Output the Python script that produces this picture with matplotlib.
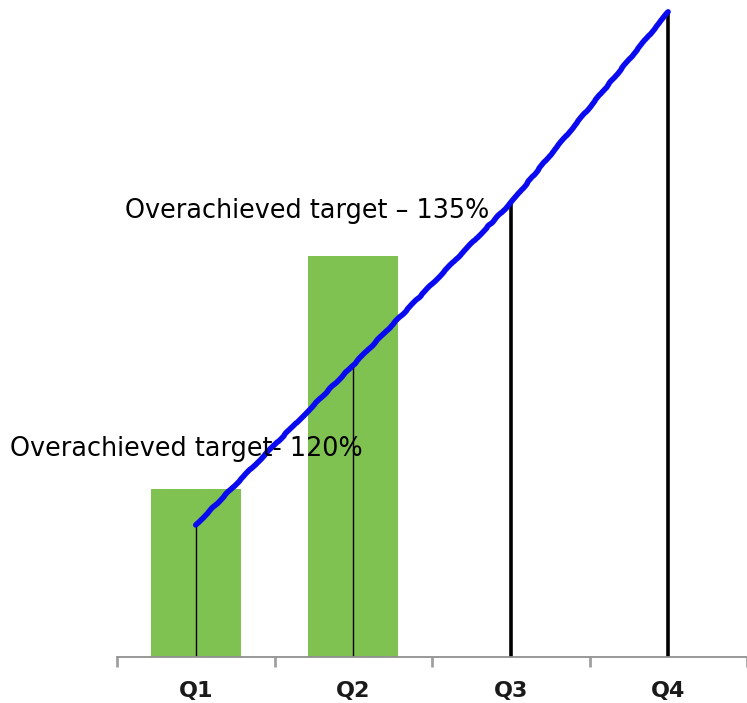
import numpy as np
import matplotlib as mpl
mpl.use('Agg')
import matplotlib.pyplot as plt

### data ###
quarters = ['Q1', 'Q2', 'Q3', 'Q4']
bar_vals = [168, 401]                      # actuals, only first two quarters in
trend_vals = [132, 292, 454, 645]          # target trend line
drop_widths = [1.0, 1.0, 2.6, 2.6]         # thin for done quarters, thick for forecast
note_120 = 'Overachieved target- 120%'
note_135 = 'Overachieved target \u2013 135%'

W, H = 747, 703
fig = plt.figure(figsize=(W/100, H/100), dpi=100)
ax = fig.add_axes([117/W, (H-657)/H, (747-117)/W, 657/H])

x = np.arange(len(quarters))
ax.bar(x[:len(bar_vals)], bar_vals, width=0.57, color='#80c252', zorder=1)

# drop lines from each trend point to the axis
for xi, yi, lw in zip(x, trend_vals, drop_widths):
	ax.plot([xi, xi], [0, yi], color='black', lw=lw, zorder=2, solid_capstyle='butt')

trend, = ax.plot(x, trend_vals, color='#0a0af0', lw=4.0, zorder=3, solid_capstyle='round')
trend.set_sketch_params(scale=0.4, length=60, randomness=10)

ax.set_xlim(-0.5, 3.49)
ax.set_ylim(0, 657)

for s in ['top', 'right', 'left']:
	ax.spines[s].set_visible(False)
ax.spines['bottom'].set_color('#909090')
ax.spines['bottom'].set_linewidth(1.3)
ax.set_yticks([])
ax.set_xticks(np.arange(-0.5, 3.6, 1.0), minor=False)
ax.set_xticklabels([])
ax.tick_params(axis='x', which='major', direction='out', length=7, width=2, color='#a0a0a0')
ax.set_xticks(x, minor=True)
ax.set_xticklabels(quarters, minor=True, fontsize=16, fontweight='bold', color='#1a1a1a')
ax.tick_params(axis='x', which='minor', length=0, pad=17)

fig.text(10/W, 1-456/H, note_120, fontsize=18.4, color='black', ha='left', va='baseline')
fig.text(125/W, 1-218/H, note_135, fontsize=18.4, color='black', ha='left', va='baseline')

plt.savefig('out.png', dpi=100)
